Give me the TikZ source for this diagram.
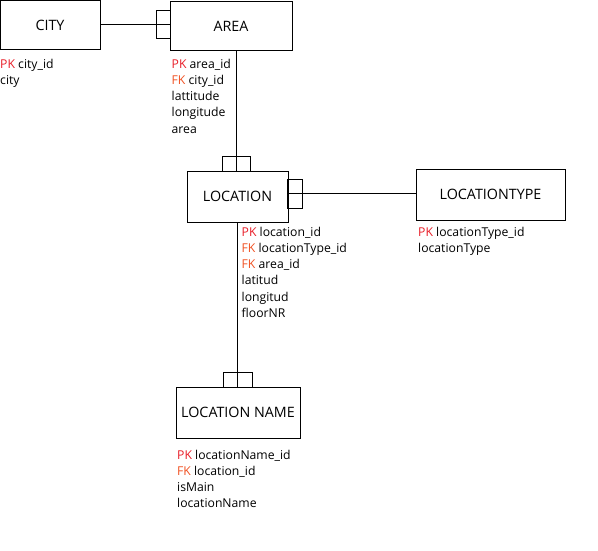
\documentclass[tikz,border=0pt]{standalone}
\usepackage{fontspec}
\setmainfont{Open Sans}
\begin{document}
\begin{tikzpicture}[x=1pt,y=-1pt,
  entity/.style={draw=linecolor,line width=1pt,fill=fillcolor,inner sep=0pt,font=\fontsize{14.3}{16}\selectfont},
  keybox/.style={draw=linecolor,line width=1pt,inner sep=0pt},
  attrs/.style={anchor=north west,inner sep=0pt,align=left,font=\fontsize{12.2}{16.2}\selectfont},
  link/.style={draw=linecolor,line width=1pt}]
\definecolor{fillcolor}{RGB}{255,255,255}
\definecolor{linecolor}{RGB}{0,0,0}
\definecolor{pkcolor}{RGB}{232,30,40}
\definecolor{fkcolor}{RGB}{240,82,35}
\useasboundingbox (0,0) rectangle (598,551);
\node [entity,minimum width=100pt,minimum height=49pt] (city) at (50,25.5) {CITY};
\node [entity,minimum width=122pt,minimum height=49pt] (area) at (231,26.5) {AREA};
\node [entity,minimum width=101pt,minimum height=51pt] (location) at (237.5,196.5) {LOCATION};
\node [entity,minimum width=149pt,minimum height=51pt] (loctype) at (490.5,194.5) {LOCATIONTYPE};
\node [entity,minimum width=124pt,minimum height=51pt] (locname) at (238,412.5) {LOCATION NAME};
\node [keybox,minimum width=14pt,minimum height=28pt] (areakey) at (163,25) {};
\node [keybox,minimum width=28pt,minimum height=14pt] (locationkey) at (236.5,164) {};
\node [keybox,minimum width=15pt,minimum height=29pt] (loctypekey) at (294.5,193.5) {};
\node [keybox,minimum width=29pt,minimum height=15pt] (locnamekey) at (237.5,379.5) {};
\draw [link] (areakey.center -| city.east) -- (areakey.center -| area.west);
\draw [link] (area.south -| locationkey) -- (location.north -| locationkey);
\draw [link] (loctypekey.center -| location.east) -- (loctypekey.center -| loctype.west);
\draw [link] (location.south -| locnamekey) -- (locnamekey.center |- locname.north);
\node [attrs] (cityattrs) at (0,58.8) {{\color{pkcolor}PK} city\_id\\city};
\node [attrs] (areaattrs) at (171.5,58.8) {{\color{pkcolor}PK} area\_id\\{\color{fkcolor}FK} city\_id\\lattitude\\longitude\\area};
\node [attrs] (locationattrs) at (241.5,226.8) {{\color{pkcolor}PK} location\_id\\{\color{fkcolor}FK} locationType\_id\\{\color{fkcolor}FK} area\_id\\latitud\\longitud\\floorNR};
\node [attrs] (loctypeattrs) at (418,226.8) {{\color{pkcolor}PK} locationType\_id\\locationType};
\node [attrs] (locnameattrs) at (177,449.8) {{\color{pkcolor}PK} locationName\_id\\{\color{fkcolor}FK} location\_id\\isMain\\locationName};
\end{tikzpicture}
\end{document}
